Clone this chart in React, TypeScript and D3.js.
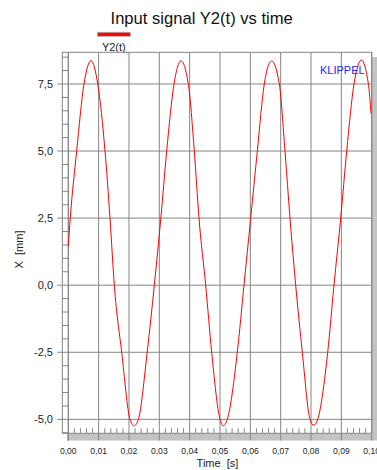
import * as d3 from "d3";

// values
const timeS = [
  0, 0.00065, 0.00276, 0.00517, 0.0075, 0.0097, 0.0121, 0.01374, 0.01517,
  0.0176, 0.02034, 0.0217, 0.0231, 0.026, 0.02835, 0.0305, 0.03243, 0.03484,
  0.03714, 0.03955, 0.04153, 0.04308, 0.04528, 0.04726, 0.05, 0.0511, 0.0524,
  0.0557, 0.0579, 0.06012, 0.0623, 0.0646, 0.067, 0.06955, 0.07142, 0.07307,
  0.07495, 0.07713, 0.07966, 0.0809, 0.0822, 0.0855, 0.08757, 0.08978,
  0.09176, 0.09417, 0.0966, 0.0989, 0.0998,
];
const y2Values = [
  1.44, 2.5, 5.0, 7.5, 8.37, 7.5, 5.0, 2.5, 0.0, -2.5, -5.0, -5.24, -5.0, -2.5,
  0.0, 2.5, 5.0, 7.5, 8.36, 7.5, 5.0, 2.5, 0.0, -2.5, -5.0, -5.24, -5.0, -2.5,
  0.0, 2.5, 5.0, 7.5, 8.36, 7.5, 5.0, 2.5, 0.0, -2.5, -5.0, -5.22, -5.0, -2.5,
  0.0, 2.5, 5.0, 7.5, 8.39, 7.5, 6.4,
];

const xTicks = [0, 0.01, 0.02, 0.03, 0.04, 0.05, 0.06, 0.07, 0.08, 0.09, 0.1];
const xTickLabels = ["0,00", "0,01", "0,02", "0,03", "0,04", "0,05", "0,06", "0,07", "0,08", "0,09", "0,10"];
const yTicks = [-5, -2.5, 0, 2.5, 5, 7.5];
const yTickLabels = ["-5,0", "-2,5", "0,0", "2,5", "5,0", "7,5"];

const W = 377;
const H = 470;
const font = "'Liberation Sans', Arial, sans-serif";

export default function App() {
  const left = 68.3;
  const right = 371.7;
  const top = 52.3;
  const bottom = 433.3;
  const frameLeft = 62.3;

  const x = d3.scaleLinear().domain([0, 0.1]).range([left, right]);
  const y = d3.scaleLinear().domain([-5.52, 8.68]).range([bottom, top]);

  const points = timeS.map((t, i) => [t, y2Values[i]] as [number, number]);
  const line = d3
    .line<[number, number]>()
    .x((d) => x(d[0]))
    .y((d) => y(d[1]))
    .curve(d3.curveMonotoneX);

  const xMinor = d3.range(1, 50).map((i) => i * 0.002).filter((_, i) => (i + 1) % 5 !== 0);
  const yMinor = d3.range(-11, 18).map((i) => i * 0.5).filter((v) => Math.abs(v % 2.5) > 0.01);

  const grid = "#858585";

  return (
    <svg
      width={W}
      height={H}
      style={{ position: "absolute", left: 0, top: 0, background: "#fff" }}
    >
      {/* title */}
      <text x={201.7} y={24} textAnchor="middle" fontFamily={font} fontSize={16.6} fill="#111">
        Input signal Y2(t) vs time
      </text>

      {/* legend */}
      <rect x={97.5} y={32.3} width={32.8} height={4} fill="#f00" stroke="#aaa" strokeWidth={0.8} />
      <text x={113.8} y={50.5} textAnchor="middle" fontFamily={font} fontSize={11} fill="#222">
        Y2(t)
      </text>

      {/* shadow */}
      <rect x={67} y={57} width={W - 67} height={440.5 - 57} fill="#c3c3c3" />
      <rect x={frameLeft} y={top} width={right - frameLeft} height={bottom - top} fill="#fff" />

      {/* horizontal grid + major y ticks */}
      {yTicks.map((v) => (
        <line key={"hy" + v} x1={57.3} x2={right} y1={y(v)} y2={y(v)} stroke={grid} strokeWidth={1} />
      ))}
      {/* vertical grid + major x ticks */}
      {xTicks.map((t) => (
        <line key={"vx" + t} x1={x(t)} x2={x(t)} y1={top} y2={440.5} stroke={grid} strokeWidth={1} />
      ))}

      {/* minor y ticks in the left strip */}
      {yMinor.map((v) => (
        <line key={"my" + v} x1={frameLeft} x2={left} y1={y(v)} y2={y(v)} stroke={grid} strokeWidth={1} />
      ))}
      {/* minor x ticks */}
      {xMinor.map((t) => (
        <line key={"mx" + t} x1={x(t)} x2={x(t)} y1={bottom - 5} y2={bottom} stroke={grid} strokeWidth={1} />
      ))}

      {/* frame */}
      <rect x={frameLeft} y={top} width={right - frameLeft} height={bottom - top} fill="none" stroke={grid} strokeWidth={1} />
      <line x1={left} x2={left} y1={top} y2={440.5} stroke={grid} strokeWidth={1} />

      {/* curve */}
      <path d={line(points) ?? ""} fill="none" stroke="#f00" strokeWidth={1} />

      {/* watermark */}
      <text x={320} y={74} fontFamily={font} fontSize={11} fill="#2424ff">
        KLIPPEL
      </text>

      {/* y tick labels */}
      {yTicks.map((v, i) => (
        <text key={"yl" + v} x={53} y={y(v) + 3.8} textAnchor="end" fontFamily={font} fontSize={11} fill="#222">
          {yTickLabels[i]}
        </text>
      ))}
      {/* x tick labels */}
      {xTicks.map((t, i) => (
        <text key={"xl" + t} x={x(t)} y={454} textAnchor="middle" fontFamily={font} fontSize={8.6} fill="#222">
          {xTickLabels[i]}
        </text>
      ))}

      {/* axis titles */}
      <text x={217.5} y={467} textAnchor="middle" fontFamily={font} fontSize={11} fill="#222" style={{ whiteSpace: "pre" }}>
        {"Time  [s]"}
      </text>
      <text
        transform="translate(22.5,249.5) rotate(-90)"
        textAnchor="middle"
        fontFamily={font}
        fontSize={11}
        fill="#222"
        style={{ whiteSpace: "pre" }}
      >
        {"X  [mm]"}
      </text>
    </svg>
  );
}
